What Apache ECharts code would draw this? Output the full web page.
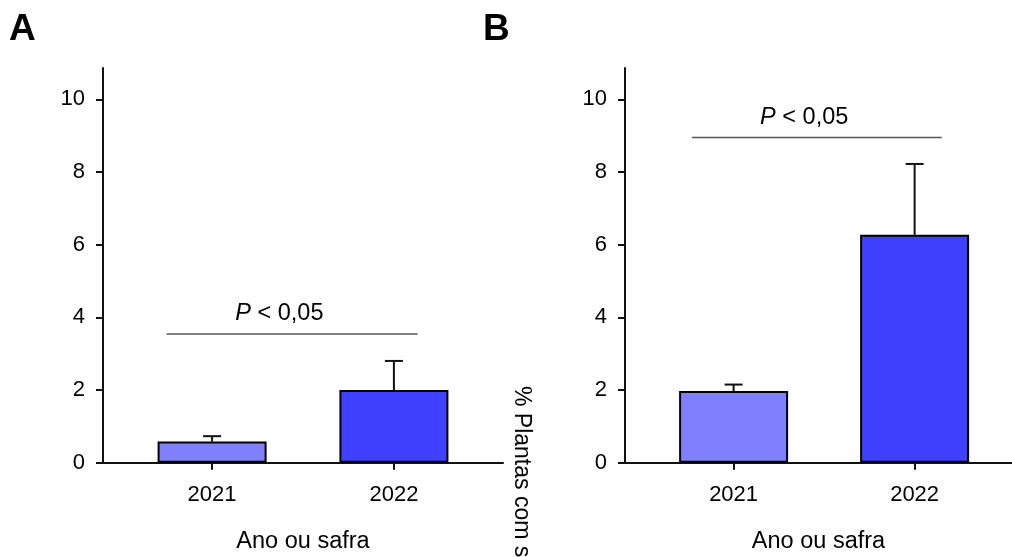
<!DOCTYPE html>
<html>
<head>
<meta charset="utf-8">
<script src="https://cdn.jsdelivr.net/npm/echarts@6/dist/echarts.min.js"></script>
<style>
html,body{margin:0;padding:0;background:#fff;}
#c{width:1012px;height:557px;}
</style>
</head>
<body>
<div id="c"></div>
<script>
// ---- data ----
const categories = ['2021', '2022'];
const catPositions = [1, 2];
const yTicks = [0, 2, 4, 6, 8, 10];
const meansA = [0.58, 2.0];
const errTopA = [0.73, 2.8];
const meansB = [1.97, 6.27];
const errTopB = [2.15, 8.22];
const barColors = ['#8080FF', '#4040FF'];
const sigLineA = [0.75, 2.13, 3.54];   // x0, x1, y (data units)
const sigLabelA = [1.37, 4.1];
const sigLineB = [0.77, 2.15, 8.95];
const sigLabelB = [1.39, 9.49];
const panelLetters = ['A', 'B'];
const xName = 'Ano ou safra';
const yNameB = '% Plantas com sintomas';

const FONT = 'Liberation Sans, Arial, sans-serif';
const chart = echarts.init(document.getElementById('c'), null, {renderer: 'canvas'});

function barData(means) {
  return means.map((v, i) => ({value: [catPositions[i], v], itemStyle: {color: barColors[i]}}));
}
function errData(means, tops) {
  return means.map((v, i) => [catPositions[i], v, tops[i]]);
}
function errRender(params, api) {
  const x = api.value(0), y0 = api.value(1), y1 = api.value(2);
  const p0 = api.coord([x, y0]);
  const p1 = api.coord([x, y1]);
  return {
    type: 'group',
    children: [
      {type: 'line', shape: {x1: p0[0], y1: p0[1], x2: p1[0], y2: p1[1]}, style: {stroke: '#111', lineWidth: 2}},
      {type: 'line', shape: {x1: p1[0] - 9, y1: p1[1], x2: p1[0] + 9, y2: p1[1]}, style: {stroke: '#111', lineWidth: 2}}
    ]
  };
}
function sigRender(params, api) {
  const p0 = api.coord([api.value(0), api.value(2)]);
  const p1 = api.coord([api.value(1), api.value(2)]);
  return {type: 'line', shape: {x1: p0[0], y1: p0[1], x2: p1[0], y2: p1[1]}, style: {stroke: '#555', lineWidth: 1.5}};
}
function sigTextRender(params, api) {
  const p = api.coord([api.value(0), api.value(1)]);
  return {
    type: 'text', x: p[0], y: p[1],
    style: {
      text: '{i|P} < 0,05', fill: '#000', fontFamily: FONT, fontSize: 23.5,
      align: 'center', verticalAlign: 'middle',
      rich: {i: {fontStyle: 'italic', fontFamily: FONT, fontSize: 23.5, fill: '#000'}}
    }
  };
}

function xAxisCfg(gi, max) {
  return {
    gridIndex: gi, type: 'value', min: 0.4, max: max,
    name: xName, nameLocation: 'middle', nameGap: 67,
    nameTextStyle: {fontFamily: FONT, fontSize: 23.5, color: '#000'},
    axisLine: {show: true, lineStyle: {color: '#111', width: 2}},
    axisTick: {show: true, length: 7, lineStyle: {color: '#111', width: 2}, customValues: catPositions},
    axisLabel: {show: true, margin: 21, fontFamily: FONT, fontSize: 22, color: '#000',
      customValues: catPositions, formatter: v => categories[Math.round(v) - 1]},
    splitLine: {show: false}
  };
}
function yAxisCfg(gi) {
  return {
    gridIndex: gi, type: 'value', min: 0, max: 10.86,
    axisLine: {show: true, lineStyle: {color: '#111', width: 2}},
    axisTick: {show: true, length: 7, lineStyle: {color: '#111', width: 2}, customValues: yTicks},
    axisLabel: {show: true, margin: 18, fontFamily: FONT, fontSize: 22, color: '#000', customValues: yTicks},
    splitLine: {show: false}
  };
}

const option = {
  animation: false,
  backgroundColor: '#fff',
  title: [
    {text: panelLetters[0], left: 9, top: 11, padding: 0, textStyle: {fontFamily: FONT, fontSize: 37, fontWeight: 'bold', color: '#000'}},
    {text: panelLetters[1], left: 483, top: 11, padding: 0, textStyle: {fontFamily: FONT, fontSize: 37, fontWeight: 'bold', color: '#000'}}
  ],
  grid: [
    {left: 103, top: 68, width: 400, height: 394.7, outerBoundsMode: 'none', containLabel: false},
    {left: 625, top: 68, width: 387, height: 394.7, outerBoundsMode: 'none', containLabel: false}
  ],
  xAxis: [xAxisCfg(0, 2.6), xAxisCfg(1, 2.538)],
  yAxis: [yAxisCfg(0), yAxisCfg(1)],
  graphic: [{
    type: 'text', x: 521, y: 386, rotation: -Math.PI / 2,
    style: {text: yNameB, fontFamily: FONT, fontSize: 23, fill: '#000', textAlign: 'left', textVerticalAlign: 'middle'}
  }],
  series: [
    {type: 'bar', xAxisIndex: 0, yAxisIndex: 0, barWidth: 109, data: barData(meansA),
      itemStyle: {borderColor: '#000', borderWidth: 2}},
    {type: 'bar', xAxisIndex: 1, yAxisIndex: 1, barWidth: 109, data: barData(meansB),
      itemStyle: {borderColor: '#000', borderWidth: 2}},
    {type: 'custom', xAxisIndex: 0, yAxisIndex: 0, renderItem: errRender, data: errData(meansA, errTopA), z: 1},
    {type: 'custom', xAxisIndex: 1, yAxisIndex: 1, renderItem: errRender, data: errData(meansB, errTopB), z: 1},
    {type: 'custom', xAxisIndex: 0, yAxisIndex: 0, renderItem: sigRender, data: [sigLineA]},
    {type: 'custom', xAxisIndex: 1, yAxisIndex: 1, renderItem: sigRender, data: [sigLineB]},
    {type: 'custom', xAxisIndex: 0, yAxisIndex: 0, renderItem: sigTextRender, data: [sigLabelA]},
    {type: 'custom', xAxisIndex: 1, yAxisIndex: 1, renderItem: sigTextRender, data: [sigLabelB]}
  ]
};
chart.setOption(option);
</script>
</body>
</html>
